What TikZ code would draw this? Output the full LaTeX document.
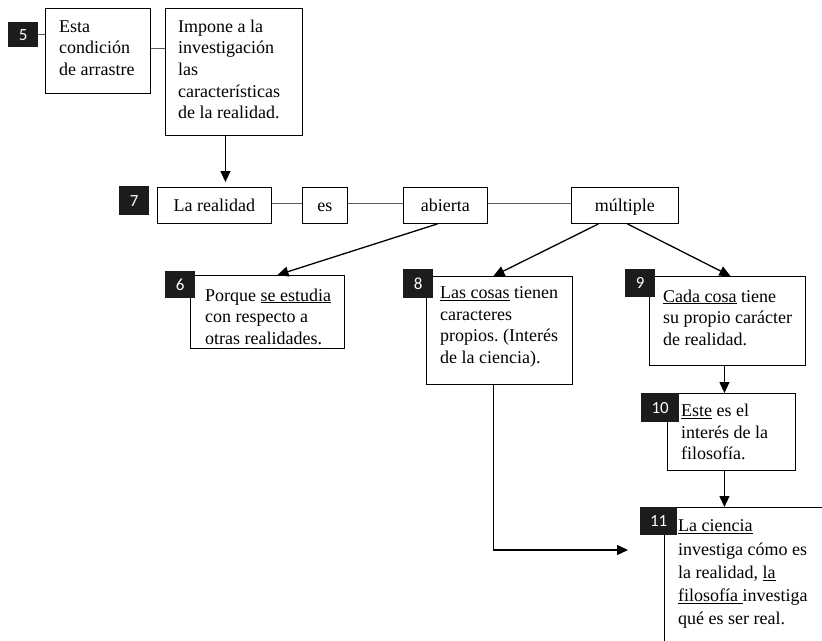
\documentclass[tikz,border=0pt]{standalone}
\usepackage{fontspec}
\setmainfont{Liberation Serif}
\newfontfamily\tagface{Carlito}
\usetikzlibrary{arrows.meta}
\definecolor{tagblack}{HTML}{1C1C1C}
\definecolor{linkgray}{HTML}{5A5A5A}
\newcommand\bodyfont{\fontsize{18}{21.7}\selectfont}
\newcommand\widefont{\fontsize{18}{23.3}\selectfont}
\newcommand\uln[1]{\underline{#1}}
\frenchspacing

\tikzset{
  frame/.style={draw=black, line width=0.9pt, inner sep=0pt, anchor=north west, fill=white},
  word/.style={frame, font=\bodyfont, minimum height=36pt, text height=14pt, text depth=1pt},
  tag/.style={fill=tagblack, text=white, inner sep=0pt, anchor=north west,
              font=\tagface\fontsize{17}{17}\selectfont},
  % multi-line texts are placed by the baseline of their last line
  txt/.style={inner sep=0pt, anchor=base west, align=left, font=\bodyfont},
  link/.style={draw=linkgray, line width=1pt},
  arr/.style={draw=black, line width=1.3pt, -{Triangle[length=11pt,width=10pt]}},
}

\begin{document}
\begin{tikzpicture}[x=1pt,y=-1pt]
\useasboundingbox (0,0) rectangle (822,640);
\clip (0,0) rectangle (822,640);

% frames
\node[frame, minimum width=105pt, minimum height=85pt]  (esta)   at (45,8)   {};
\node[frame, minimum width=137pt, minimum height=127pt] (impone) at (165,8)  {};
\node[word, minimum width=114pt] (real)     at (157,187) {La realidad};
\node[word, minimum width=45pt]  (es)       at (302,187) {es};
\node[word, minimum width=84pt]  (abierta)  at (403,187) {abierta};
\node[word, minimum width=107pt] (multiple) at (571,187) {múltiple};
\node[frame, minimum width=154pt, minimum height=73pt]  (b6)  at (190,275) {};
\node[frame, minimum width=146pt, minimum height=108pt] (b8)  at (426,276) {};
\node[frame, minimum width=156pt, minimum height=89pt]  (b9)  at (649,276) {};
\node[frame, minimum width=128pt, minimum height=77pt]  (b10) at (667,393) {};
\node[frame, minimum width=240pt, minimum height=220pt] (b11) at (664,507) {};

% box texts
\node[txt] (esta-t)   at (59,75.4)   {Esta\\condición\\de arrastre};
\node[txt] (impone-t) at (178,118.8) {Impone a la\\investigación\\las\\características\\de la realidad.};
\node[txt] (b6-t)  at (205,344.4) {Porque \uln{se estudia}\\con respecto a\\otras realidades.};
\node[txt] (b8-t)  at (440,363.6) {\uln{Las cosas} tienen\\caracteres\\propios. (Interés\\de la ciencia).};
\node[txt] (b9-t)  at (663,345.4) {\uln{Cada cosa} tiene\\su propio carácter\\de realidad.};
\node[txt] (b10-t) at (681,459.9) {\uln{Este} es el\\interés de la\\filosofía.};
\node[txt, font=\widefont] (b11-t) at (678,624.9)
  {\uln{La ciencia}\\investiga cómo es\\la realidad, \uln{la}\\\uln{filosofía\ }investiga\\qué es ser real.};

% number tags
\node[tag, minimum width=30pt, minimum height=25pt] (t5)  at (8,22)    {5};
\node[tag, minimum width=30pt, minimum height=29pt] (t7)  at (119,186) {7};
\node[tag, minimum width=30pt, minimum height=27pt] (t6)  at (165,271) {6};
\node[tag, minimum width=30pt, minimum height=29pt] (t8)  at (403,269) {8};
\node[tag, minimum width=30pt, minimum height=28pt] (t9)  at (625,269) {9};
\node[tag, minimum width=38pt, minimum height=29pt] (t10) at (641,393) {10};
\node[tag, minimum width=37pt, minimum height=28pt] (t11) at (640,507) {11};

% plain links
\draw[link] (t5.east) -- (t5.east -| esta.west);
\draw[link] ([yshift=2.5]esta.east) -- ([yshift=2.5]esta.east -| impone.west);
\draw[link] ([yshift=2]real.east) -- ([yshift=2]es.west);
\draw[link] ([yshift=2]es.east) -- ([yshift=2]abierta.west);
\draw[link] ([yshift=2]abierta.east) -- ([yshift=2]multiple.west);

% arrows
\draw[arr, shorten >=5pt] ([xshift=-8.5]impone.south) -- ([xshift=-8.5]impone.south |- real.north);
\draw[arr] ([xshift=-8]abierta.south) -- ([xshift=10]b6.north);
\draw[arr] ([xshift=-26.5]multiple.south) -- ([xshift=-6]b8.north);
\draw[arr] ([xshift=2.5]multiple.south) -- ([xshift=3]b9.north);
\draw[arr] ([xshift=-3]b9.south) -- ([xshift=-3]b9.south |- b10.north);
\draw[arr] ([xshift=-7]b10.south) -- ([xshift=-7]b10.south |- b11.north);
\coordinate (in11) at (628,550);
\draw[arr, line width=1.1pt] ([xshift=-6]b8.south) |- (in11);
\end{tikzpicture}
\end{document}
